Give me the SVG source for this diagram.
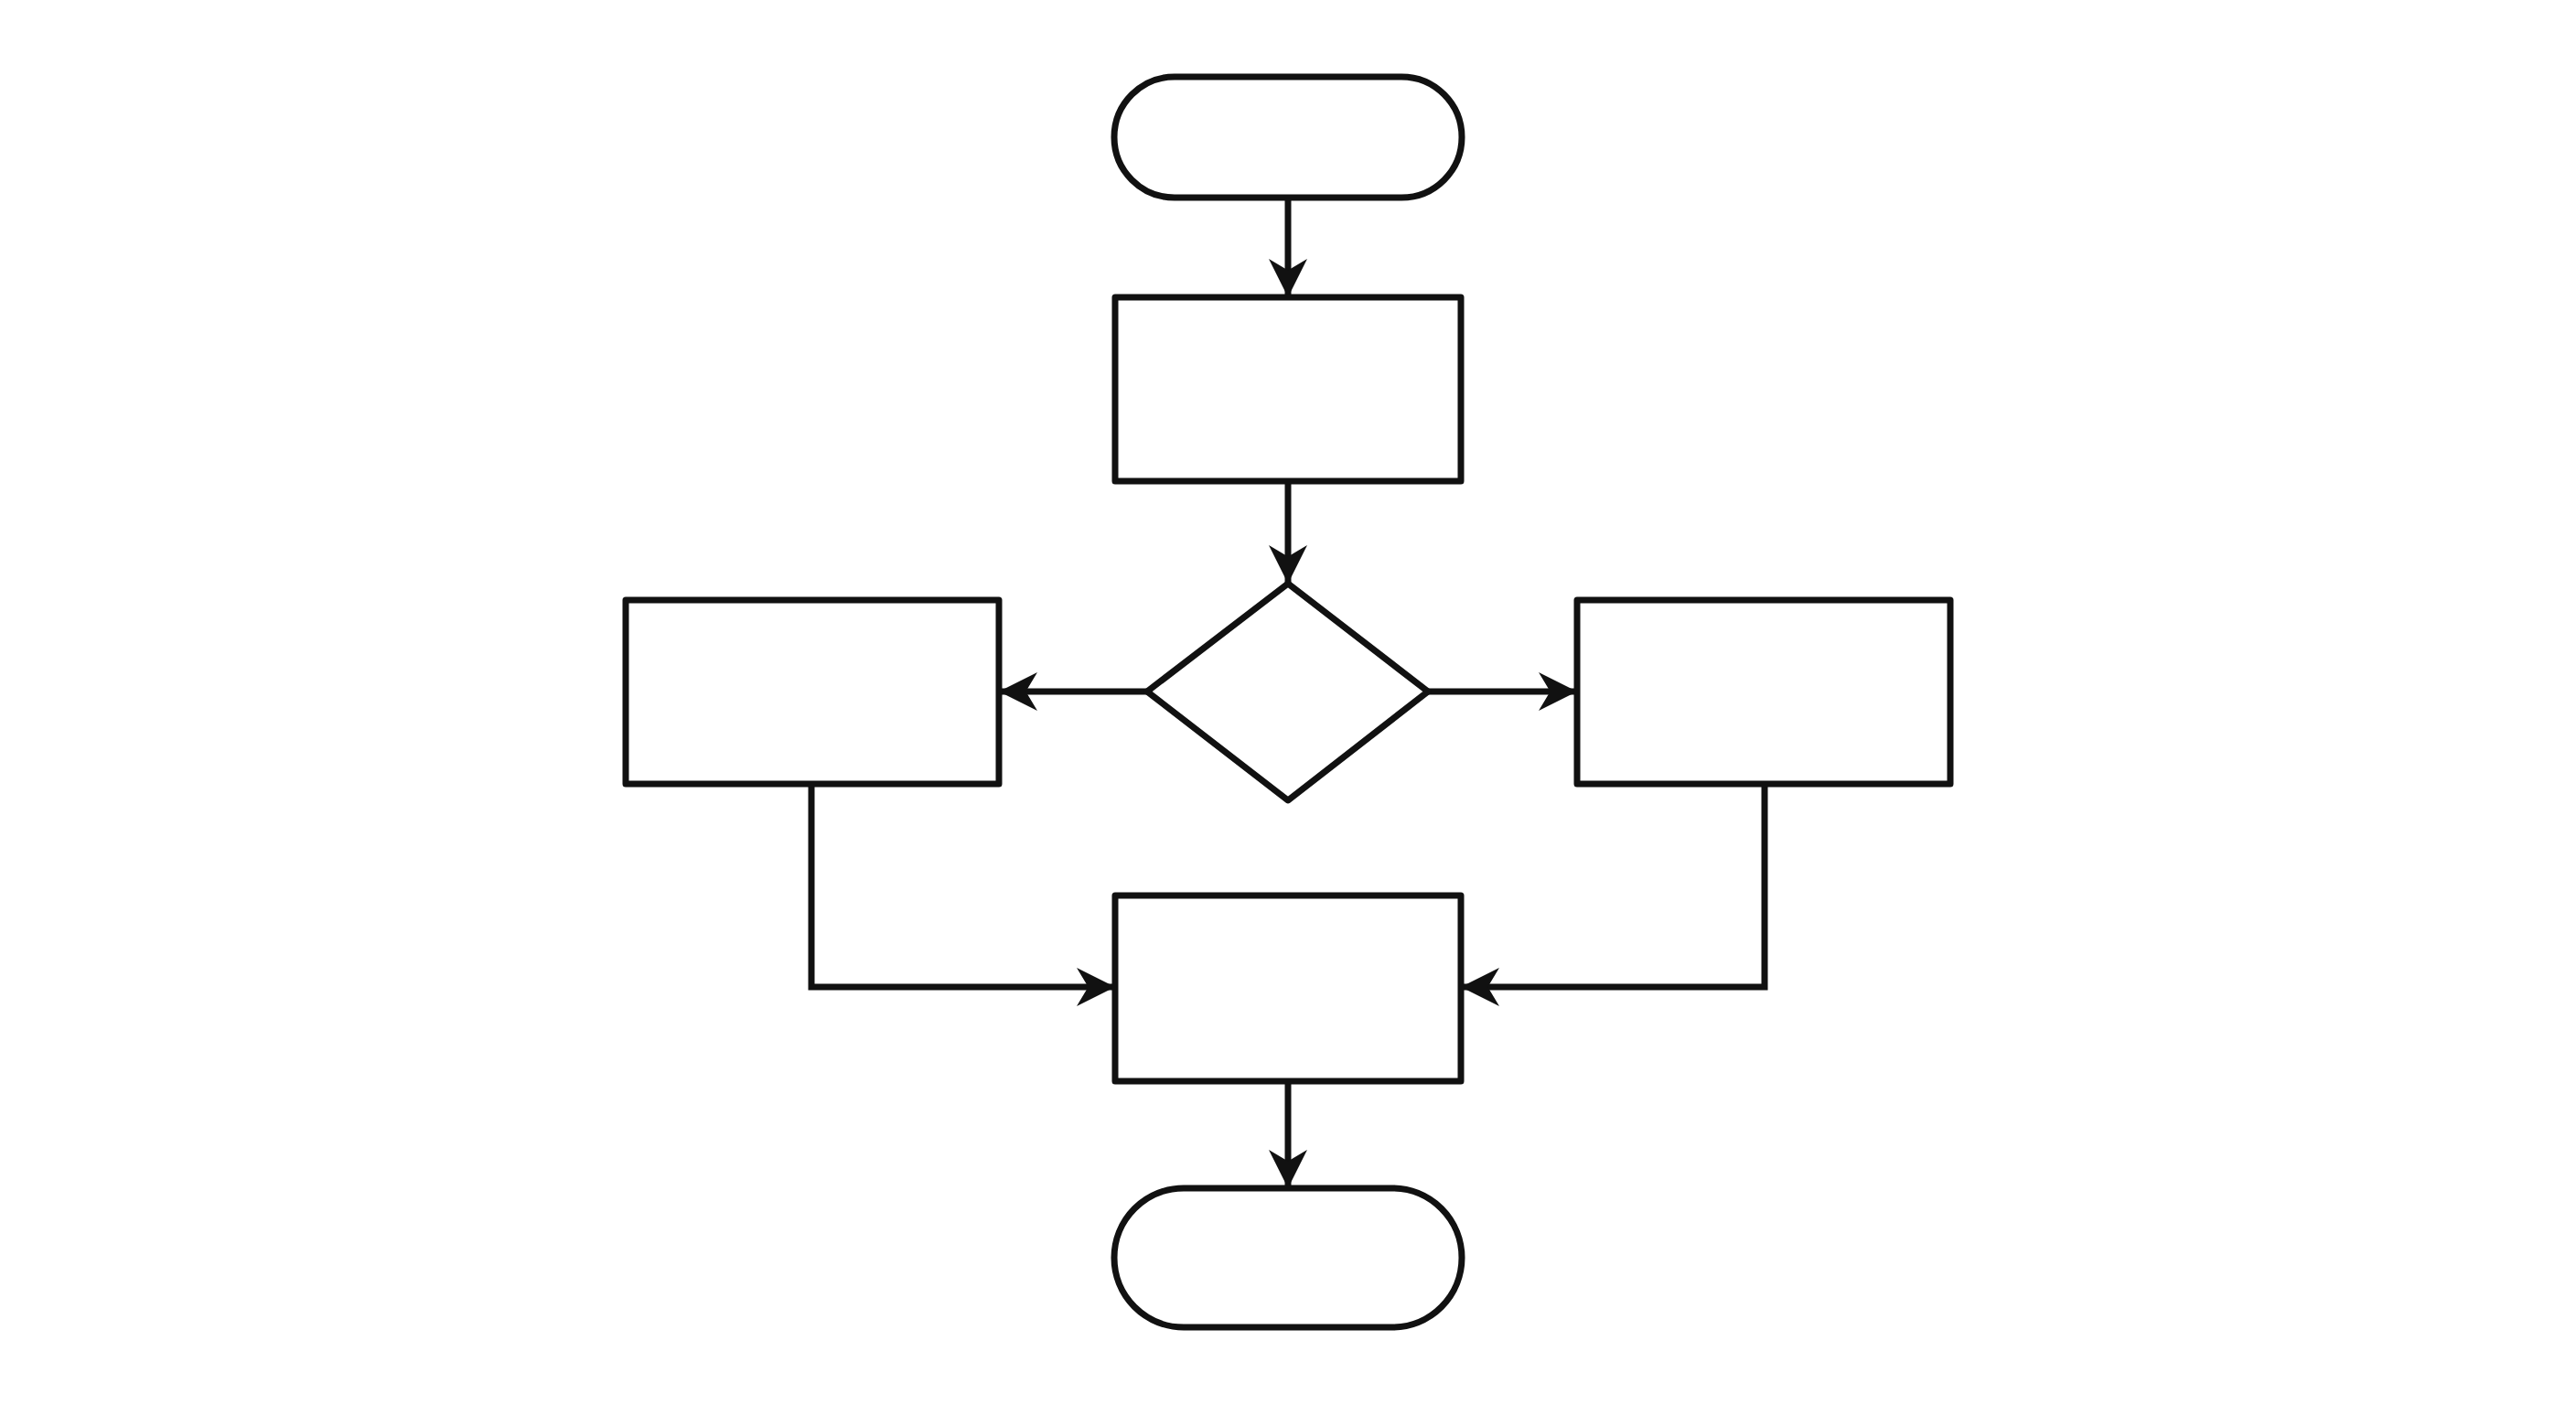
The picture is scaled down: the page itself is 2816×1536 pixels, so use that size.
<svg xmlns="http://www.w3.org/2000/svg" width="2816" height="1536" viewBox="0 0 2816 1536">
<style>
.n{fill:#fff;stroke:#111;stroke-width:7;stroke-linejoin:round}
.c{fill:none;stroke:#111;stroke-width:7}
</style>
<defs>
<marker id="a" viewBox="0 0 20 20" refX="20" refY="10" markerWidth="6" markerHeight="6" markerUnits="strokeWidth" orient="auto">
<path d="M0,0 L20,10 L0,20 L6,10 Z" fill="#111"/>
</marker>
</defs>
<rect width="2816" height="1536" fill="#fff"/>
<g id="connectors">
<path class="c" d="M1408,216 V325" marker-end="url(#a)"/>
<path class="c" d="M1408,526 V638" marker-end="url(#a)"/>
<path class="c" d="M1254,756 H1092" marker-end="url(#a)"/>
<path class="c" d="M1561,756 H1724" marker-end="url(#a)"/>
<path class="c" d="M887,857 V1079 H1219" marker-end="url(#a)"/>
<path class="c" d="M1929,857 V1079 H1597" marker-end="url(#a)"/>
<path class="c" d="M1408,1182 V1299" marker-end="url(#a)"/>
</g>
<g id="start"><rect class="n" x="1218" y="84" width="380" height="132" rx="66"/></g>
<g id="process1"><rect class="n" x="1219" y="325" width="378" height="201"/></g>
<g id="decision"><polygon class="n" points="1408,638 1561,756 1408,875 1254,756"/></g>
<g id="left"><rect class="n" x="684" y="656" width="408" height="201"/></g>
<g id="right"><rect class="n" x="1724" y="656" width="408" height="201"/></g>
<g id="merge"><rect class="n" x="1219" y="979" width="378" height="203"/></g>
<g id="end"><rect class="n" x="1218" y="1299" width="380" height="152" rx="76"/></g>
</svg>
